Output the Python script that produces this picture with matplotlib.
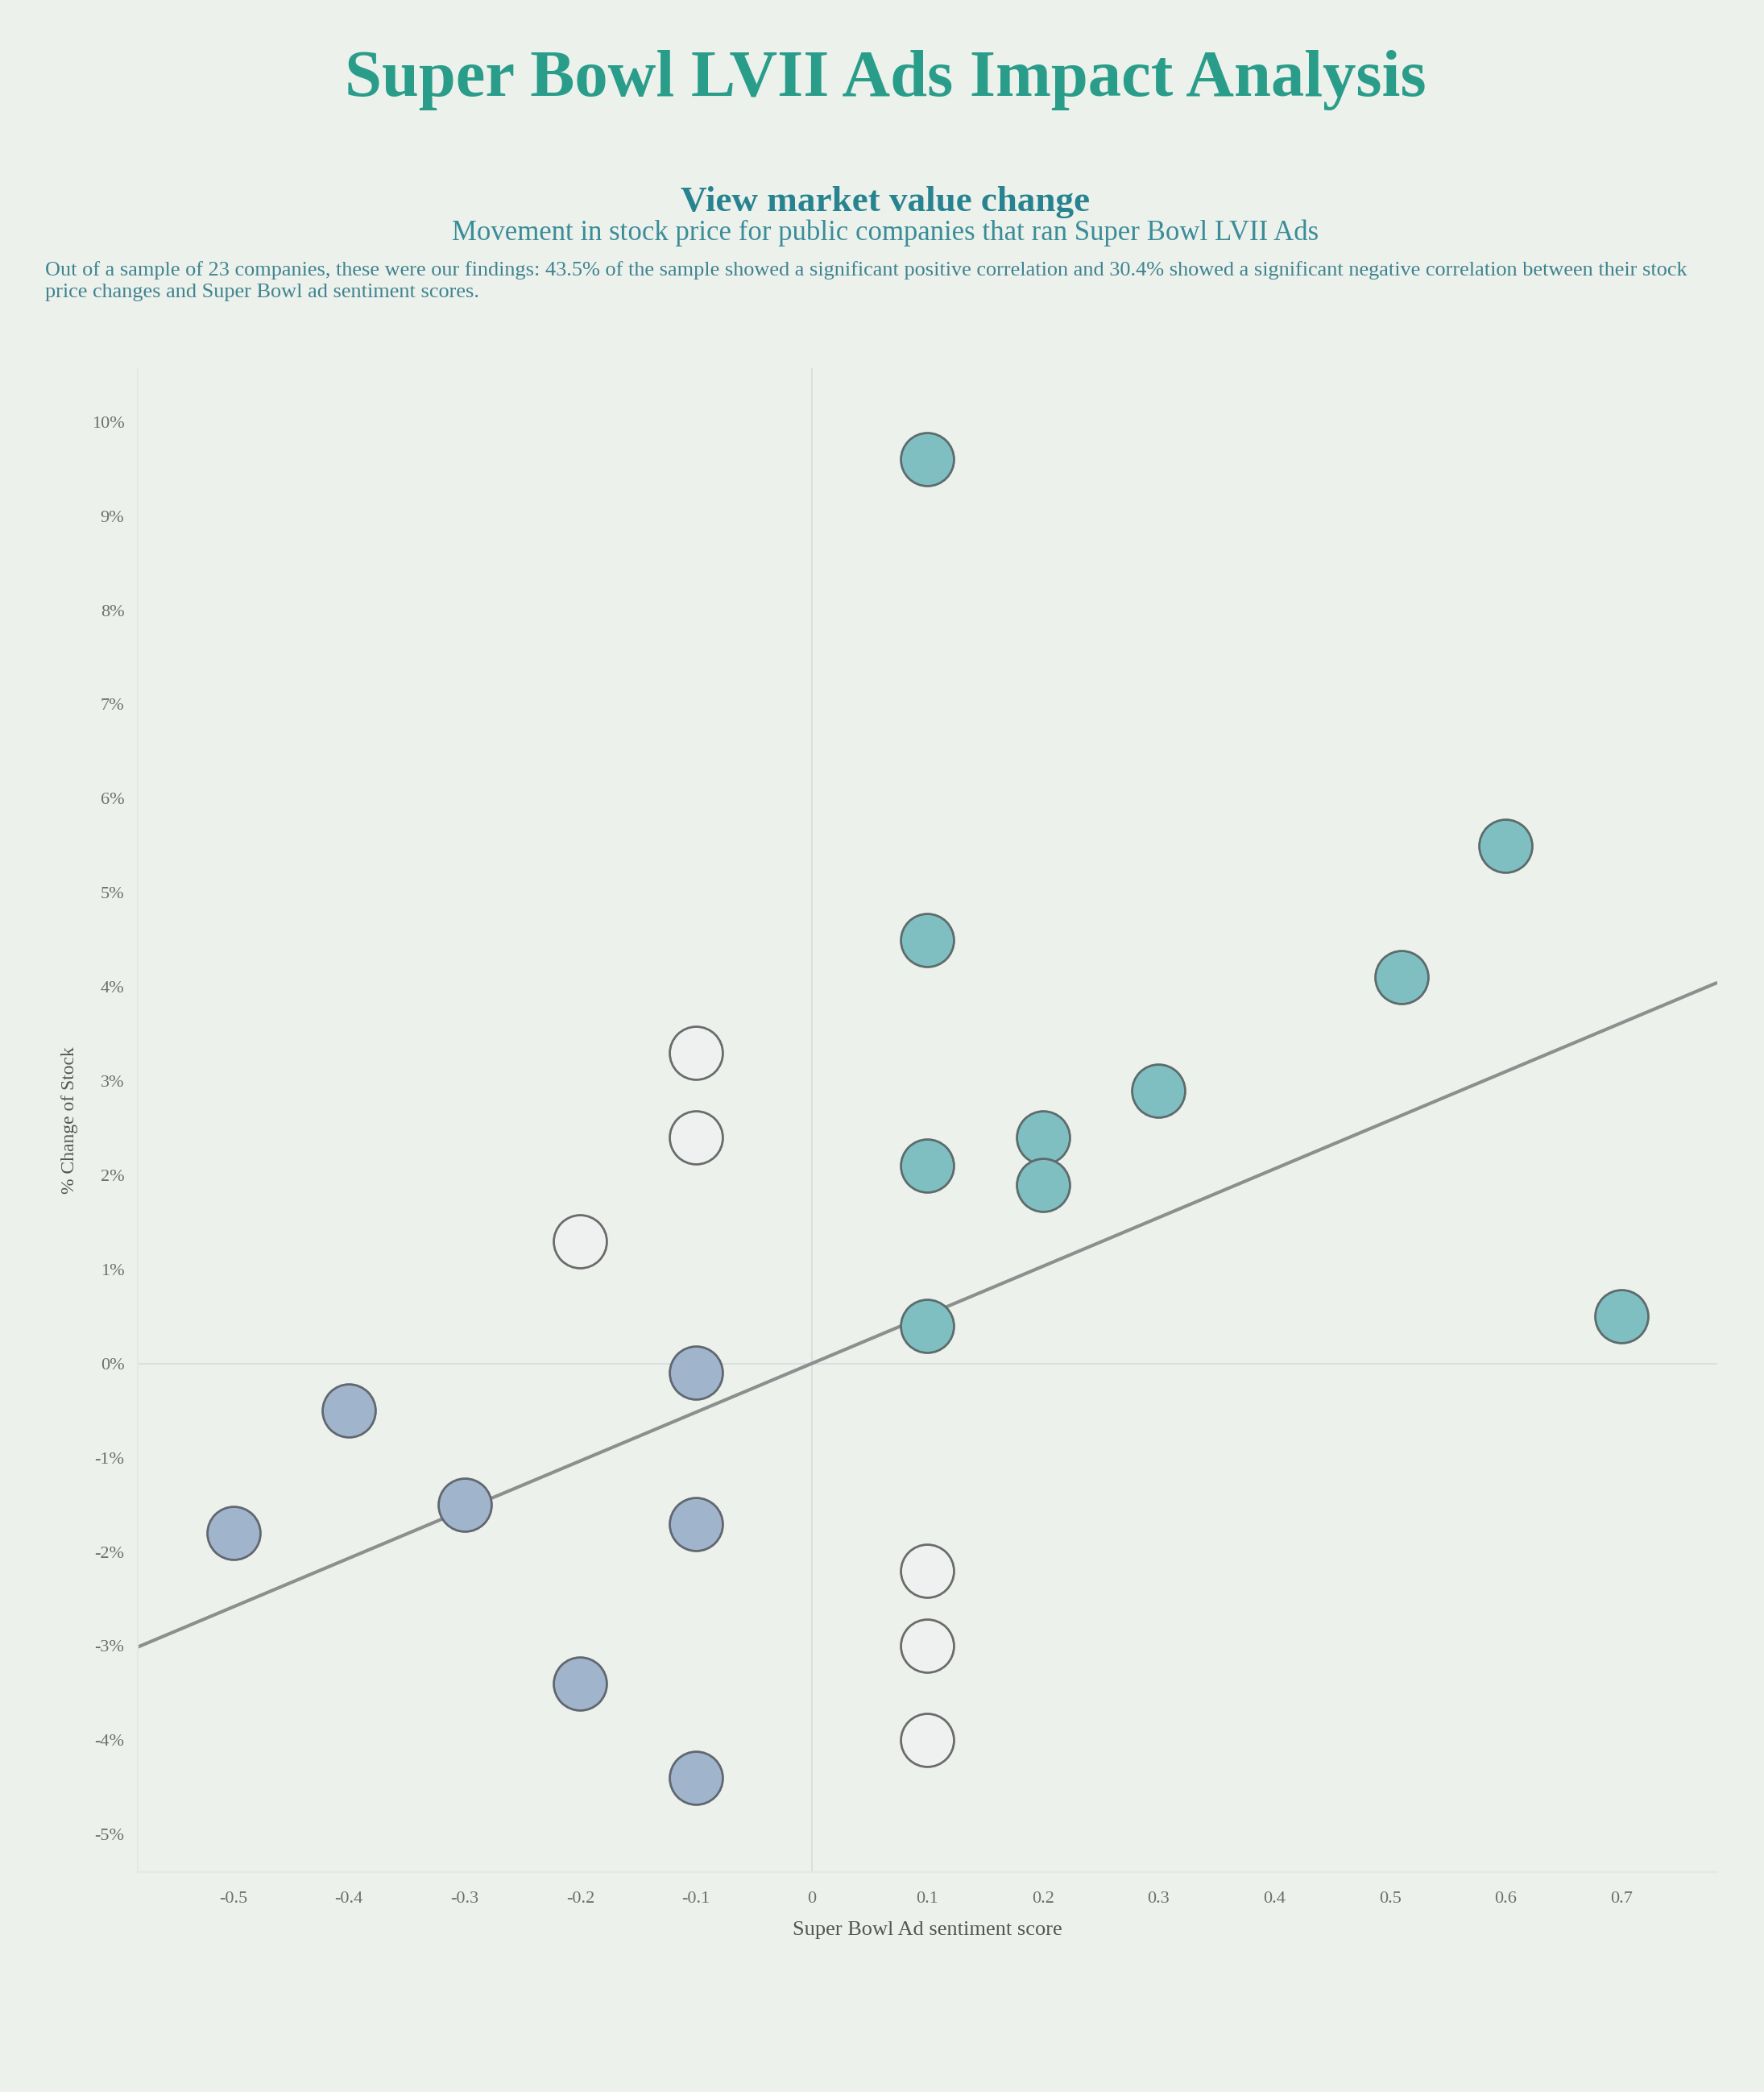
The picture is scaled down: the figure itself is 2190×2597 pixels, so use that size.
import numpy as np
import matplotlib
matplotlib.use("Agg")
import matplotlib.pyplot as plt

# ---- data ----
pos_x = [0.1, 0.6, 0.1, 0.51, 0.3, 0.2, 0.1, 0.2, 0.1, 0.7]
pos_y = [9.6, 5.5, 4.5, 4.1, 2.9, 2.4, 2.1, 1.9, 0.4, 0.5]
neu_x = [-0.1, -0.1, -0.2, 0.1, 0.1, 0.1]
neu_y = [3.3, 2.4, 1.3, -2.2, -3.0, -4.0]
neg_x = [-0.1, -0.4, -0.5, -0.3, -0.1, -0.2, -0.1]
neg_y = [-0.1, -0.5, -1.8, -1.5, -1.7, -3.4, -4.4]
x_ticks = [-0.5, -0.4, -0.3, -0.2, -0.1, 0, 0.1, 0.2, 0.3, 0.4, 0.5, 0.6, 0.7]
x_tick_labels = ["-0.5", "-0.4", "-0.3", "-0.2", "-0.1", "0", "0.1", "0.2", "0.3", "0.4", "0.5", "0.6", "0.7"]
y_ticks = [-5, -4, -3, -2, -1, 0, 1, 2, 3, 4, 5, 6, 7, 8, 9, 10]
y_tick_labels = [f"{v}%" for v in y_ticks]

BG = "#ecf1eb"
FONT = "Liberation Serif"

fig = plt.figure(figsize=(21.9, 25.97), dpi=100, facecolor=BG)
ax = fig.add_axes([0.0781, 0.1051, 0.8954, 0.7189])
ax.set_facecolor(BG)

xlim = (-0.5825, 0.783)
ylim = (-5.40, 10.57)
ax.set_xlim(*xlim)
ax.set_ylim(*ylim)

# zero lines
ax.axhline(0, color="#dadfe2", lw=1.5, zorder=1)
ax.axvline(0, color="#dadfe2", lw=1.5, zorder=1)

# trend line (least squares through origin)
all_x = np.array(pos_x + neu_x + neg_x)
all_y = np.array(pos_y + neu_y + neg_y)
slope = np.sum(all_x * all_y) / np.sum(all_x ** 2)
tx = np.array(xlim)
ax.plot(tx, slope * tx, color="#8c8f8e", lw=3, zorder=2, solid_capstyle="butt")

ms = 2250
ax.scatter(neu_x, neu_y, s=ms, facecolor="#eff1f1", edgecolor="#6b6b6b", linewidth=2, zorder=3)
ax.scatter(neg_x, neg_y, s=ms, facecolor="#a0b4cc", edgecolor="#616770", linewidth=2, zorder=3)
ax.scatter(pos_x, pos_y, s=ms, facecolor="#7fbfc1", edgecolor="#5d6b6c", linewidth=2, zorder=3)

ax.set_xticks(x_ticks)
ax.set_xticklabels(x_tick_labels, fontfamily=FONT, fontsize=16, color="#6e6e6e")
ax.set_yticks(y_ticks)
ax.set_yticklabels(y_tick_labels, fontfamily=FONT, fontsize=16, color="#6e6e6e")
ax.tick_params(axis="both", length=0)
ax.tick_params(axis="x", pad=17)
ax.tick_params(axis="y", pad=12)

for side in ["top", "right"]:
    ax.spines[side].set_visible(False)
ax.spines["left"].set_color("#e4e8e6")
ax.spines["bottom"].set_color("#e4e8e6")
ax.spines["left"].set_linewidth(1.5)
ax.spines["bottom"].set_linewidth(1.5)

ax.set_xlabel("Super Bowl Ad sentiment score", fontfamily=FONT, fontsize=19, color="#555555", labelpad=13)
ax.set_ylabel("% Change of Stock", fontfamily=FONT, fontsize=17, color="#555555", labelpad=12)

fig.text(0.502, 0.9618, "Super Bowl LVII Ads Impact Analysis", ha="center", va="center",
         fontfamily=FONT, fontweight="bold", fontsize=59.5, color="#2a9d8a")
fig.text(0.502, 0.9035, "View market value change", ha="center", va="center",
         fontfamily=FONT, fontweight="bold", fontsize=32.5, color="#27838f")
fig.text(0.502, 0.8885, "Movement in stock price for public companies that ran Super Bowl LVII Ads", ha="center", va="center",
         fontfamily=FONT, fontsize=25, color="#3a8d98")
fig.text(0.0256, 0.8655,
         "Out of a sample of 23 companies, these were our findings: 43.5% of the sample showed a significant positive correlation and 30.4% showed a significant negative correlation between their stock\nprice changes and Super Bowl ad sentiment scores.",
         ha="left", va="center", fontfamily=FONT, fontsize=18.9, color="#3f8390", linespacing=1.3)

fig.savefig("out.png", dpi=100, facecolor=BG)
